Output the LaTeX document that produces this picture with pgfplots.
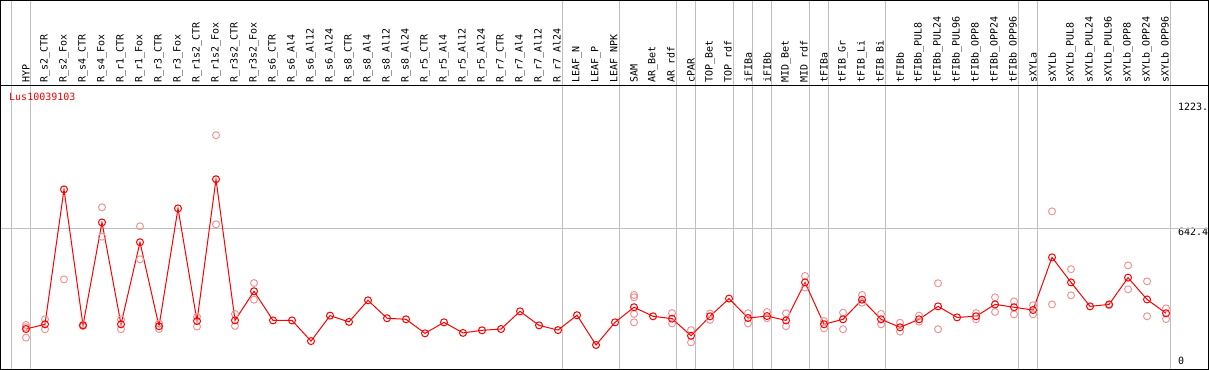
\documentclass[border=0pt]{standalone}
\usepackage{pgfplots}
\pgfplotsset{compat=1.18}
\usepackage{fontspec}
\setmainfont{DejaVu Sans Mono}
\setmonofont{DejaVu Sans Mono}
\definecolor{rep}{RGB}{236,150,150}
\definecolor{gridg}{RGB}{192,192,192}
\begin{document}
\begin{tikzpicture}[font=\fontsize{10bp}{12bp}\selectfont]
\useasboundingbox (0bp,-1bp) rectangle (1209bp,369bp);
\begin{axis}[
 at={(0,0)}, anchor=south west,
 scale only axis, width=1170.75bp, height=284bp,
 xmin=-0.3684, xmax=61.25, ymin=-9.27, ymax=1306.8,
 axis line style={draw=none},
 clip=false,
 major tick length=0pt,
 tick style={draw=none},
 tick label style={font=\fontsize{10bp}{12bp}\selectfont},
 xtick={1,...,61},
 xticklabels={{HYP},{R\_s2\_CTR},{R\_s2\_Fox},{R\_s4\_CTR},{R\_s4\_Fox},{R\_r1\_CTR},{R\_r1\_Fox},{R\_r3\_CTR},{R\_r3\_Fox},{R\_r1s2\_CTR},{R\_r1s2\_Fox},{R\_r3s2\_CTR},{R\_r3s2\_Fox},{R\_s6\_CTR},{R\_s6\_Al4},{R\_s6\_Al12},{R\_s6\_Al24},{R\_s8\_CTR},{R\_s8\_Al4},{R\_s8\_Al12},{R\_s8\_Al24},{R\_r5\_CTR},{R\_r5\_Al4},{R\_r5\_Al12},{R\_r5\_Al24},{R\_r7\_CTR},{R\_r7\_Al4},{R\_r7\_Al12},{R\_r7\_Al24},{LEAF\_N},{LEAF\_P},{LEAF\_NPK},{SAM},{AR\_Bet},{AR\_rdf},{cPAR},{TOP\_Bet},{TOP\_rdf},{iFIBa},{iFIBb},{MID\_Bet},{MID\_rdf},{tFIBa},{tFIB\_Gr},{tFIB\_Li},{tFIB\_Bi},{tFIBb},{tFIBb\_PUL8},{tFIBb\_PUL24},{tFIBb\_PUL96},{tFIBb\_OPP8},{tFIBb\_OPP24},{tFIBb\_OPP96},{sXYLa},{sXYLb},{sXYLb\_PUL8},{sXYLb\_PUL24},{sXYLb\_PUL96},{sXYLb\_OPP8},{sXYLb\_OPP24},{sXYLb\_OPP96}},
 xticklabel pos=upper,
 xticklabel style={rotate=90, anchor=west, inner sep=0pt},
 xticklabel shift=2bp,
 ytick={642.4,1223},
 yticklabels={642.4,1223.},
 yticklabel pos=right,
 yticklabel style={anchor=north west, inner sep=0pt},
 yticklabel shift=7bp,
 extra y ticks={0},
 extra y tick labels={0},
 extra y tick style={yticklabel style={anchor=south west, yshift=2bp}},
]
% grid lines
\draw[gridg, line width=1bp] (axis cs:-0.3684,642.4) -- (axis cs:63.263,642.4);
\pgfplotsinvokeforeach{0,1,29,32,35,36,38,39,40,42,43,46,53,54,61}{
  \draw[gridg, line width=1bp] (axis cs:#1.25,-9.27) -- (axis cs:#1.25,1700.6);
}
% replicates
\addplot[only marks, mark=o, mark size=3.5bp, color=rep, mark options={line width=1bp}] coordinates {
(1,195)(1,184)(1,136)
(2,221)(2,175)
(3,406)
(4,196)(4,190)
(5,740)(5,604)
(6,221)(6,175)
(7,652)(7,499)
(8,202)(8,176)
(10,233)(10,187)
(11,1074)(11,661)
(12,246)(12,190)
(13,389)(13,312)
(33,334)(33,323)(33,246)(33,207)
(35,250)(35,202)
(36,171)(36,114)
(37,248)(37,218)
(39,249)(39,202)
(40,255)(40,226)
(41,249)(41,189)
(42,422)(42,368)
(43,213)(43,179)
(44,252)(44,175)
(45,334)(45,298)
(46,246)(46,198)
(47,205)(47,164)
(48,238)(48,210)
(49,388)(49,175)
(51,250)(51,221)
(52,323)(52,255)
(53,304)(53,244)
(54,286)(54,244)
(55,721)(55,290)
(56,453)(56,332)
(58,286)
(59,471)(59,360)
(60,397)(60,235)
(61,272)(61,222)
};
% main series
\addplot[color=red, line width=1bp, mark=o, mark size=3.5bp, mark options={line width=1bp}] coordinates {
(1,176)(2,198)(3,823)(4,193)(5,670)(6,198)(7,578)(8,189)(9,735)(10,213)
(11,870)(12,216)(13,351)(14,216)(15,216)(16,120)(17,238)(18,209)(19,309)(20,226)
(21,221)(22,156)(23,207)(24,158)(25,170)(26,176)(27,258)(28,193)(29,171)(30,240)
(31,102)(32,207)(33,277)(34,235)(35,224)(36,145)(37,235)(38,317)(39,227)(40,236)
(41,216)(42,392)(43,198)(44,221)(45,312)(46,221)(47,184)(48,221)(49,281)(50,230)
(51,235)(52,290)(53,277)(54,264)(55,508)(56,392)(57,281)(58,290)(59,414)(60,313)
(61,249)
};
\node[anchor=base west, text=red, inner sep=0pt] at (axis cs:0.105,1237) {Lus10039103};
\end{axis}
\draw[black, line width=1bp] (0.5bp,-0.5bp) rectangle (1208.5bp,368.5bp);
\draw[black, line width=1bp] (0bp,283.5bp) -- (1209bp,283.5bp);
\end{tikzpicture}
\end{document}
